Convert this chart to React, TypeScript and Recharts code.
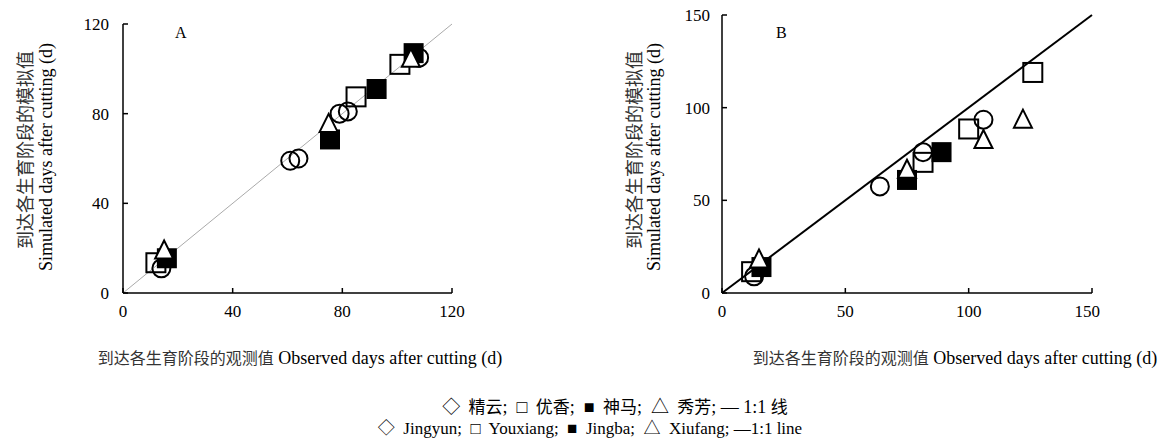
import React from "react"
import {
  ScatterChart,
  Scatter,
  XAxis,
  YAxis,
  ReferenceLine,
} from "recharts"

// panel A: observed (x) vs simulated (y) days after cutting
const aJingyunObs = [14, 61, 64, 79, 82, 108]
const aJingyunSim = [11, 59, 60, 80, 81, 105]
const aYouxiangObs = [12, 85, 101]
const aYouxiangSim = [13.5, 87.5, 102]
const aJingbaObs = [16, 75.5, 92.5, 106]
const aJingbaSim = [15.5, 68.5, 91, 107]
const aXiufangObs = [15, 75, 105]
const aXiufangSim = [18.5, 75, 104]

// panel B
const bJingyunObs = [13, 64, 81.5, 106]
const bJingyunSim = [9, 57.5, 76, 93.5]
const bYouxiangObs = [12, 81.5, 100, 126]
const bYouxiangSim = [11.5, 70.5, 88.5, 119]
const bJingbaObs = [16, 75, 89]
const bJingbaSim = [14, 61, 76]
const bXiufangObs = [15, 75, 106, 122]
const bXiufangSim = [17.5, 66, 82, 93]

const aTicks = [0, 40, 80, 120]
const bTicks = [0, 50, 100, 150]

const pts = (xs: number[], ys: number[]) => xs.map((x, i) => ({ x, y: ys[i] }))

const FONT = '"Liberation Serif", "Times New Roman", "Noto Sans CJK SC", serif'
const CJK = '"Noto Sans CJK SC", sans-serif'
const tickStyle = { fill: "#000", fontSize: 17, fontFamily: FONT }

const OpenCircle = (p: any) => (
  <circle cx={p.cx} cy={p.cy} r={9} fill="none" stroke="#000" strokeWidth={2} />
)
const OpenSquare = (p: any) => (
  <rect x={p.cx - 9.5} y={p.cy - 9.5} width={19} height={19} fill="none" stroke="#000" strokeWidth={2} />
)
const FilledSquare = (p: any) => (
  <rect x={p.cx - 10} y={p.cy - 10} width={20} height={20} fill="#000" />
)
const OpenTriangle = (p: any) => (
  <polygon
    points={`${p.cx},${p.cy - 11} ${p.cx - 9},${p.cy + 7} ${p.cx + 9},${p.cy + 7}`}
    fill="#fff"
    stroke="#000"
    strokeWidth={2}
  />
)

function Panel({
  left,
  width,
  marginLeft,
  max,
  ticks,
  top,
  right,
  yTickMargin,
  lineColor,
  lineWidth,
  series,
}: {
  left: number
  width: number
  marginLeft: number
  max: number
  ticks: number[]
  top: number
  right: number
  yTickMargin: number
  lineColor: string
  lineWidth: number
  series: { name: string; data: { x: number; y: number }[]; shape: any }[]
}) {
  return (
    <div style={{ position: "absolute", left: left, top: 0 }}>
      <ScatterChart
        width={width}
        height={293 + 30}
        margin={{ top, right, left: marginLeft, bottom: 0 }}
      >
        <XAxis
          type="number"
          dataKey="x"
          domain={[0, max]}
          ticks={ticks}
          tickSize={-5}
          tickMargin={17}
          height={30}
          axisLine={{ stroke: "#000", strokeWidth: 1.5 }}
          tickLine={{ stroke: "#000", strokeWidth: 1.5 }}
          tick={tickStyle}
        />
        <YAxis
          type="number"
          dataKey="y"
          domain={[0, max]}
          ticks={ticks}
          tickSize={-5}
          tickMargin={yTickMargin}
          width={60}
          axisLine={{ stroke: "#000", strokeWidth: 1.5 }}
          tickLine={{ stroke: "#000", strokeWidth: 1.5 }}
          tick={tickStyle}
        />
        <ReferenceLine
          segment={[
            { x: 0, y: 0 },
            { x: max, y: max },
          ]}
          stroke={lineColor}
          strokeWidth={lineWidth}
          ifOverflow="visible"
        />
        {series.map((s) => (
          <Scatter
            key={s.name}
            name={s.name}
            data={s.data}
            shape={s.shape}
            isAnimationActive={false}
          />
        ))}
      </ScatterChart>
    </div>
  )
}

const txt = (extra: React.CSSProperties): React.CSSProperties => ({
  position: "absolute",
  whiteSpace: "pre",
  fontFamily: FONT,
  fontSize: 18,
  color: "#000",
  lineHeight: 1,
  ...extra,
})

const rot = (cx: number, cy: number, extra: React.CSSProperties = {}): React.CSSProperties =>
  txt({ left: cx, top: cy, transform: "translate(-50%, -50%) rotate(-90deg)", ...extra })

const hor = (cx: number, cy: number, extra: React.CSSProperties = {}): React.CSSProperties =>
  txt({ left: cx, top: cy, transform: "translate(-50%, -50%)", ...extra })

const cn = { fontFamily: CJK, fontSize: 16, color: "#333" }
const cnLegend = { fontFamily: CJK, fontSize: 17, color: "#000" }

const XLabel = () => (
  <>
    <span style={cn}>到达各生育阶段的观测值</span> Observed days after cutting (d)
  </>
)

export default function App() {
  const seriesA = [
    { name: "Jingyun", data: pts(aJingyunObs, aJingyunSim), shape: OpenCircle },
    { name: "Youxiang", data: pts(aYouxiangObs, aYouxiangSim), shape: OpenSquare },
    { name: "Jingba", data: pts(aJingbaObs, aJingbaSim), shape: FilledSquare },
    { name: "Xiufang", data: pts(aXiufangObs, aXiufangSim), shape: OpenTriangle },
  ]
  const seriesB = [
    { name: "Jingyun", data: pts(bJingyunObs, bJingyunSim), shape: OpenCircle },
    { name: "Youxiang", data: pts(bYouxiangObs, bYouxiangSim), shape: OpenSquare },
    { name: "Jingba", data: pts(bJingbaObs, bJingbaSim), shape: FilledSquare },
    { name: "Xiufang", data: pts(bXiufangObs, bXiufangSim), shape: OpenTriangle },
  ]
  return (
    <div
      style={{
        position: "absolute",
        left: 0,
        top: 0,
        width: 1176,
        height: 448,
        background: "#fff",
        overflow: "hidden",
      }}
    >
      <Panel
        left={0}
        width={470}
        marginLeft={63}
        max={120}
        ticks={aTicks}
        top={24}
        right={18}
        yTickMargin={19}
        lineColor="#aaa"
        lineWidth={1}
        series={seriesA}
      />
      <Panel
        left={600}
        width={500}
        marginLeft={62}
        max={150}
        ticks={bTicks}
        top={15}
        right={8}
        yTickMargin={17}
        lineColor="#000"
        lineWidth={2}
        series={seriesB}
      />

      <div style={txt({ left: 175, top: 25, fontSize: 16 })}>A</div>
      <div style={txt({ left: 776, top: 25, fontSize: 16 })}>B</div>

      <div style={rot(24, 150, { ...cn, fontSize: 18 })}>到达各生育阶段的模拟值</div>
      <div style={rot(46, 157)}>Simulated days after cutting (d)</div>
      <div style={rot(633, 150, { ...cn, fontSize: 18 })}>到达各生育阶段的模拟值</div>
      <div style={rot(654, 157)}>Simulated days after cutting (d)</div>

      <div style={hor(300, 358)}>
        <XLabel />
      </div>
      <div style={hor(955, 358)}>
        <XLabel />
      </div>

      <div style={hor(615, 406)}>
        ◇ <span style={cnLegend}> 精云</span>;  □ <span style={cnLegend}> 优香</span>;  ■ <span style={cnLegend}> 神马</span>;  △ <span style={cnLegend}> 秀芳</span>; — 1:1 <span style={cnLegend}>线</span>
      </div>
      <div style={hor(590, 428, { fontSize: 17 })}>◇  Jingyun;  □  Youxiang;  ■  Jingba;  △  Xiufang; —1:1 line</div>
    </div>
  )
}
